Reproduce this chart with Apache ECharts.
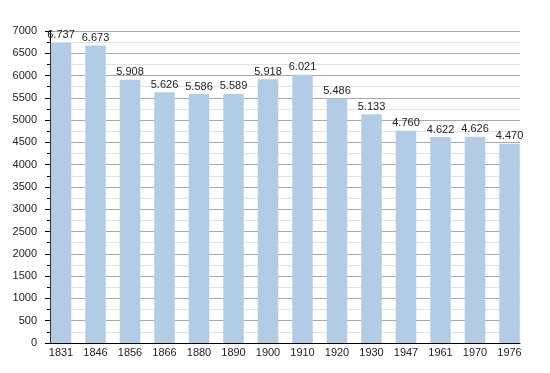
<!DOCTYPE html>
<html>
<head>
<meta charset="utf-8">
<script src="https://cdn.jsdelivr.net/npm/echarts@6/dist/echarts.min.js"></script>
<style>
html,body{margin:0;padding:0;background:#fff;}
#c{width:550px;height:373px;}
</style>
</head>
<body>
<div id="c"></div>
<script>
const years = ['1831','1846','1856','1866','1880','1890','1900','1910','1920','1930','1947','1961','1970','1976'];
const population = [6737,6673,5908,5626,5586,5589,5918,6021,5486,5133,4760,4622,4626,4470];
const yMin = 0, yMax = 7000, yStep = 500;

function fmt(v){
  const s = String(v);
  return s.length > 3 ? s.slice(0, s.length-3) + '.' + s.slice(s.length-3) : s;
}
const font = '"Liberation Sans", Arial, sans-serif';
const chart = echarts.init(document.getElementById('c'), null, {renderer:'canvas'});
chart.setOption({
  animation:false,
  backgroundColor:'#fff',
  textStyle:{fontFamily:font},
  grid:[
    {left:50, right:30, top:31, bottom:30, containLabel:false},
    {left:43.75, right:23.25, top:31, bottom:30, containLabel:false}
  ],
  xAxis:[
    {gridIndex:0, type:'value', min:0, max:1, show:true,
     axisLine:{show:true, onZero:false, lineStyle:{color:'#000', width:1}},
     axisTick:{show:false}, axisLabel:{show:false}, splitLine:{show:false}},
    {gridIndex:1, type:'category', data:years, boundaryGap:true,
     axisLine:{show:false}, axisTick:{show:false}, splitLine:{show:false},
     axisLabel:{show:true, interval:0, margin:4, color:'#222', fontSize:11, fontFamily:font}}
  ],
  yAxis:[
    {gridIndex:0, type:'value', min:yMin, max:yMax, interval:yStep,
     axisLine:{show:true, lineStyle:{color:'#000', width:1}},
     axisTick:{show:true, length:5, lineStyle:{color:'#000'}},
     minorTick:{show:true, splitNumber:2, length:3, lineStyle:{color:'#000'}},
     splitLine:{show:true, lineStyle:{color:'#a8a8a8', width:1}},
     minorSplitLine:{show:true, lineStyle:{color:'#e2e2e2', width:1}},
     axisLabel:{show:true, margin:13, color:'#222', fontSize:11, fontFamily:font,
       formatter:v=>String(v)}},
    {gridIndex:1, type:'value', min:yMin, max:yMax, show:false, splitLine:{show:false}}
  ],
  series:[{
    type:'bar', xAxisIndex:1, yAxisIndex:1, data:population, barWidth:20.5,
    itemStyle:{color:'#b3cce6'},
    label:{show:true, position:'top', distance:2, color:'#222', fontSize:11, fontFamily:font,
      formatter:p=>fmt(p.value)}
  }]
});
</script>
</body>
</html>
